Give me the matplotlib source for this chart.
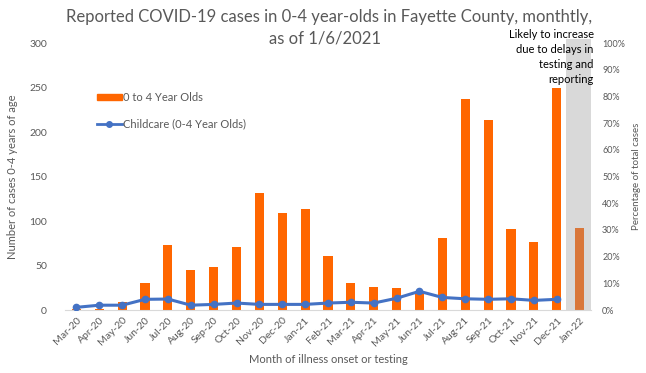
import numpy as np
import matplotlib
matplotlib.use("Agg")
import matplotlib.pyplot as plt
from matplotlib.ticker import PercentFormatter
from matplotlib.lines import Line2D
from matplotlib.patches import Patch

plt.rcParams['font.family'] = ['Lato', 'DejaVu Sans']

months = ['Mar-20', 'Apr-20', 'May-20', 'Jun-20', 'Jul-20', 'Aug-20', 'Sep-20',
          'Oct-20', 'Nov-20', 'Dec-20', 'Jan-21', 'Feb-21', 'Mar-21', 'Apr-21',
          'May-21', 'Jun-21', 'Jul-21', 'Aug-21', 'Sep-21', 'Oct-21', 'Nov-21',
          'Dec-21', 'Jan-22']
cases = [1, 1.5, 9, 30, 73, 45, 48, 71, 131, 109, 114, 61, 30, 26,
         25, 19, 81, 237, 213, 91, 76, 249, 92]
# childcare share of total cases (no value yet for Jan-22)
childcare_pct = [1.0, 1.8, 1.8, 4.0, 4.1, 1.8, 2.1, 2.6, 2.1, 2.1, 2.1, 2.6,
                 2.9, 2.6, 4.4, 7.0, 4.7, 4.2, 4.0, 4.2, 3.6, 4.0]

orange = '#FF6600'
partial_orange = '#D9773A'
blue = '#4472C4'
grey_txt = '#595959'

fig = plt.figure(figsize=(6.46, 3.73), dpi=100)
ax = fig.add_axes([0.1006, 0.1689, 0.8143, 0.7158])

x = np.arange(len(months))
colors = [orange] * (len(months) - 1) + [partial_orange]

# shaded band for the incomplete month
band = ax.axvspan(21.4, 22.5, ymin=0, ymax=1.015, color='#D9D9D9', zorder=0, lw=0)
band.set_clip_on(False)

ax.bar(x, cases, width=0.4, color=colors, zorder=2)
ax.set_xlim(-0.5, 22.5)
ax.set_ylim(0, 300)
ax.set_yticks(range(0, 301, 50))
ax.set_xticks(x)
ax.set_xticklabels(months, rotation=45, ha='right', rotation_mode='anchor')
ax.tick_params(axis='both', length=0, colors=grey_txt, labelsize=7.5)
ax.tick_params(axis='y', pad=13)
ax.tick_params(axis='x', pad=4)
for s in ['top', 'right', 'left']:
    ax.spines[s].set_visible(False)
ax.spines['bottom'].set_color('#D9D9D9')
ax.set_ylabel('Number of cases 0-4 years of age', color=grey_txt, fontsize=8, labelpad=8)
ax.set_xlabel('Month of illness onset or testing', color=grey_txt, fontsize=8, labelpad=5)

ax2 = ax.twinx()
ax2.plot(x[:len(childcare_pct)], np.array(childcare_pct) / 100, color=blue, lw=2.2,
         marker='o', ms=4.5, zorder=3)
ax2.set_ylim(0, 1)
ax2.set_yticks(np.arange(0, 1.01, 0.1))
ax2.yaxis.set_major_formatter(PercentFormatter(1.0, decimals=0))
ax2.tick_params(axis='y', length=0, colors=grey_txt, labelsize=6.5, pad=8)
for s in ax2.spines.values():
    s.set_visible(False)
ax2.set_ylabel('Percentage of total cases', color=grey_txt, fontsize=7, labelpad=5)

fig.text(0.51, 0.955, 'Reported COVID-19 cases in 0-4 year-olds in Fayette County, monthtly,',
         ha='center', va='center', fontsize=12, color=grey_txt)
fig.text(0.503, 0.897, 'as of 1/6/2021', ha='center', va='center', fontsize=12, color=grey_txt)

fig.text(0.919, 0.922, 'Likely to increase\ndue to delays in\ntesting and\nreporting',
         ha='right', va='top', fontsize=8, color='black', linespacing=1.45)

handles = [Patch(color=orange, label='0 to 4 Year Olds'),
           Line2D([], [], color=blue, lw=2, marker='o', ms=4, label='Childcare (0-4 Year Olds)')]
ax.legend(handles=handles, loc='upper left', bbox_to_anchor=(0.135, 0.78),
          bbox_transform=fig.transFigure, frameon=False, fontsize=8,
          labelcolor=grey_txt, handlelength=2.2, handleheight=0.5,
          handletextpad=0.1, labelspacing=1.4)

fig.savefig('out.png', dpi=100)
